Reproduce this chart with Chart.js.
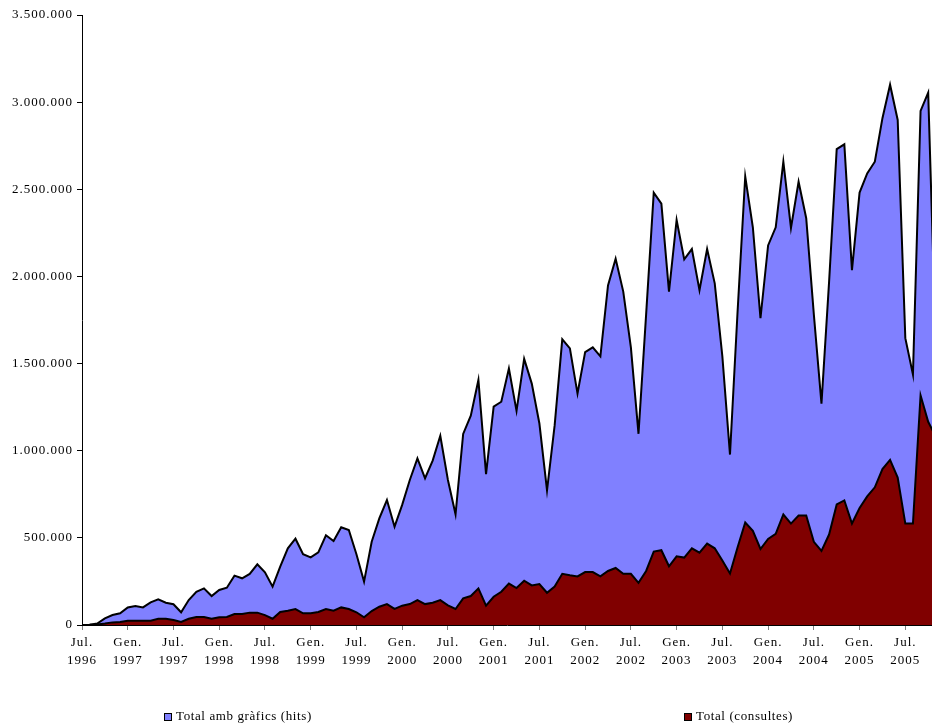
<!DOCTYPE html>
<html>
<head>
<meta charset="utf-8">
<script src="https://cdn.jsdelivr.net/npm/chart.js@4.4.1/dist/chart.umd.min.js"></script>
<style>
  html, body { margin: 0; padding: 0; background: #fff; }
  #wrap { width: 932px; height: 726px; position: relative; }
</style>
</head>
<body>
<div id="wrap"><canvas id="chart"></canvas></div>
<script>
// monthly data, Jul. 1996 -> Nov. 2005 (last point is cut off at the right edge)
const monthNames = ['Gen.', 'Feb.', 'Març', 'Abr.', 'Maig', 'Juny', 'Jul.', 'Ag.', 'Set.', 'Oct.', 'Nov.', 'Des.'];

const hits = [
  0, 2000, 8000, 38000, 57000, 67000,
  101000, 109000, 101000, 130000, 147000, 128000,
  119000, 73000, 143000, 191000, 210000, 166000,
  201000, 214000, 283000, 268000, 293000, 348000,
  302000, 220000, 335000, 440000, 495000, 406000,
  388000, 417000, 515000, 482000, 561000, 545000,
  406000, 249000, 478000, 612000, 717000, 564000,
  689000, 832000, 956000, 842000, 943000, 1086000,
  832000, 635000, 1096000, 1201000, 1406000, 866000,
  1253000, 1281000, 1472000, 1229000, 1527000, 1385000,
  1156000, 773000, 1145000, 1639000, 1587000, 1328000,
  1566000, 1593000, 1541000, 1948000, 2101000, 1913000,
  1593000, 1097000, 1782000, 2481000, 2418000, 1913000,
  2324000, 2098000, 2157000, 1921000, 2157000, 1960000,
  1541000, 978000, 1802000, 2574000, 2282000, 1760000,
  2178000, 2282000, 2658000, 2278000, 2543000, 2334000,
  1782000, 1270000, 1969000, 2731000, 2758000, 2036000,
  2481000, 2591000, 2658000, 2908000, 3100000, 2898000,
  1646000, 1437000, 2950000, 3054000, 1600000
];

const consultes = [
  0, 1000, 3000, 8000, 15000, 17000,
  25000, 25000, 25000, 25000, 36000, 36000,
  29000, 17000, 36000, 46000, 46000, 36000,
  44000, 46000, 63000, 63000, 71000, 71000,
  57000, 36000, 75000, 82000, 91000, 67000,
  67000, 75000, 92000, 82000, 101000, 92000,
  73000, 44000, 80000, 105000, 120000, 92000,
  111000, 120000, 143000, 120000, 128000, 143000,
  113000, 92000, 153000, 166000, 210000, 111000,
  162000, 191000, 238000, 212000, 254000, 227000,
  235000, 185000, 221000, 294000, 285000, 279000,
  304000, 304000, 279000, 310000, 327000, 294000,
  294000, 242000, 310000, 421000, 429000, 337000,
  394000, 387000, 440000, 415000, 467000, 440000,
  370000, 296000, 446000, 588000, 540000, 436000,
  494000, 523000, 634000, 582000, 628000, 628000,
  477000, 425000, 519000, 692000, 715000, 582000,
  671000, 738000, 790000, 895000, 947000, 846000,
  582000, 582000, 1318000, 1166000, 1080000
];

const xTickLabels = [
  ['Jul.', '1996'], ['Gen.', '1997'], ['Jul.', '1997'], ['Gen.', '1998'], ['Jul.', '1998'],
  ['Gen.', '1999'], ['Jul.', '1999'], ['Gen.', '2000'], ['Jul.', '2000'], ['Gen.', '2001'],
  ['Jul.', '2001'], ['Gen.', '2002'], ['Jul.', '2002'], ['Gen.', '2003'], ['Jul.', '2003'],
  ['Gen.', '2004'], ['Jul.', '2004'], ['Gen.', '2005'], ['Jul.', '2005']
];

const yTickLabels = ['0', '500.000', '1.000.000', '1.500.000', '2.000.000', '2.500.000', '3.000.000', '3.500.000'];

const seriesNames = ['Total amb gràfics (hits)', 'Total (consultes)'];

// category of each point, e.g. "Jul. 1996"
const months = hits.map((_, i) => monthNames[(6 + i) % 12] + ' ' + (1996 + Math.floor((6 + i) / 12)));

const FONT = '"Liberation Serif", "Times New Roman", serif';

const toPoints = (arr) => arr.map((v, i) => ({ x: i, y: v }));

const spacingPlugin = {
  id: 'spacing',
  beforeDraw(chart) {
    chart.ctx.letterSpacing = '1px';
  }
};

const bottomLegend = {
  id: 'bottomLegend',
  afterDraw(chart) {
    const ctx = chart.ctx;
    const xs = [164, 684];
    const y = 717;
    ctx.save();
    ctx.letterSpacing = '0.6px';
    ctx.font = '13px ' + FONT;
    ctx.textBaseline = 'middle';
    ctx.textAlign = 'left';
    chart.data.datasets.forEach((ds, k) => {
      const x = xs[k];
      ctx.fillStyle = ds.backgroundColor;
      ctx.fillRect(x, y - 4, 8, 8);
      ctx.strokeStyle = '#000';
      ctx.lineWidth = 1;
      ctx.strokeRect(x + 0.5, y - 3.5, 7, 7);
      ctx.fillStyle = '#000';
      ctx.fillText(ds.label, x + 12, y);
    });
    ctx.restore();
  }
};

new Chart(document.getElementById('chart'), {
  type: 'line',
  data: {
    labels: months,
    datasets: [
      {
        label: seriesNames[0],
        data: toPoints(hits),
        backgroundColor: '#8080ff',
        borderColor: '#000',
        borderWidth: 2,
        fill: 'origin',
        pointRadius: 0,
        tension: 0,
        order: 2
      },
      {
        label: seriesNames[1],
        data: toPoints(consultes),
        backgroundColor: '#800000',
        borderColor: '#000',
        borderWidth: 2,
        fill: 'origin',
        pointRadius: 0,
        tension: 0,
        order: 1
      }
    ]
  },
  options: {
    responsive: true,
    maintainAspectRatio: false,
    animation: false,
    events: [],
    layout: { padding: { top: 15, right: 0, left: 0, bottom: 0 } },
    plugins: {
      legend: { display: false },
      tooltip: { enabled: false }
    },
    scales: {
      x: {
        type: 'linear',
        min: 0,
        max: 111.5,
        afterBuildTicks: (scale) => {
          scale.ticks = xTickLabels.map((_, k) => ({ value: k * 6 }));
        },
        afterFit: (scale) => { scale.height = 101; },
        grid: {
          drawOnChartArea: false,
          tickLength: 5,
          tickColor: '#808080'
        },
        border: { color: '#000', width: 1 },
        ticks: {
          autoSkip: false,
          maxRotation: 0,
          padding: 4,
          color: '#000',
          font: { family: FONT, size: 13, lineHeight: 1.35 },
          callback: (value) => xTickLabels[Math.round(value / 6)]
        }
      },
      y: {
        min: 0,
        max: 3500000,
        afterBuildTicks: (scale) => {
          scale.ticks = yTickLabels.map((_, k) => ({ value: k * 500000 }));
        },
        afterFit: (scale) => { scale.width = 82; },
        grid: {
          drawOnChartArea: false,
          tickLength: 5,
          tickColor: '#000'
        },
        border: { color: '#000', width: 1 },
        ticks: {
          padding: 4,
          color: '#000',
          font: { family: FONT, size: 13 },
          callback: (value) => yTickLabels[Math.round(value / 500000)]
        }
      }
    }
  },
  plugins: [spacingPlugin, bottomLegend]
});
</script>
</body>
</html>
